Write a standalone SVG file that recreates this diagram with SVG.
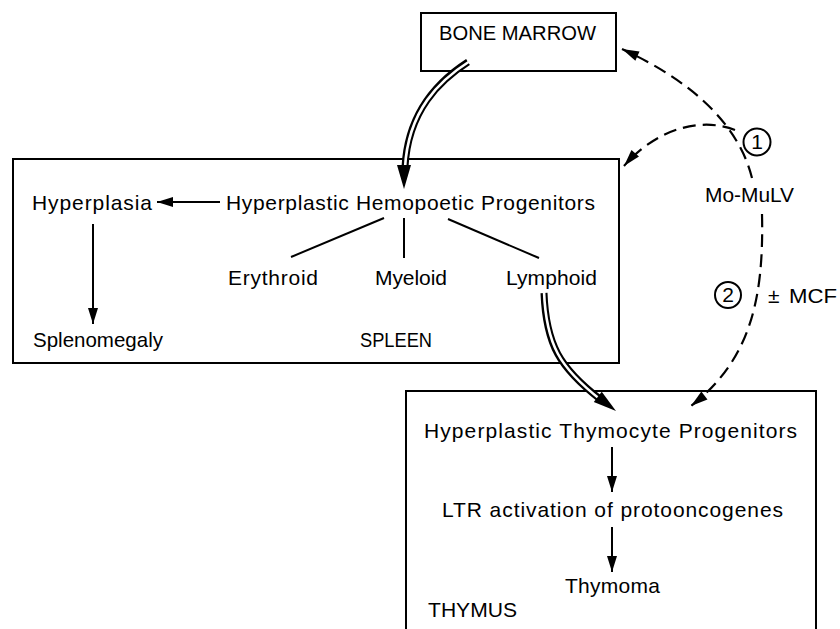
<svg xmlns="http://www.w3.org/2000/svg" width="840" height="629" viewBox="0 0 840 629">
<defs>
<style>
.box{fill:none;stroke:#000;stroke-width:2}
.t{font-family:"Liberation Sans",Arial,sans-serif;font-size:21px;fill:#000}
.ln{stroke:#000;stroke-width:2;fill:none}
.dash{stroke:#000;stroke-width:2.2;fill:none;stroke-dasharray:13 7}
.dbo{stroke:#000;stroke-width:7;fill:none}
.dbi{stroke:#fff;stroke-width:2.6;fill:none}
.hd{fill:#000}
</style>
<marker id="ah" markerUnits="userSpaceOnUse" markerWidth="24" markerHeight="14" viewBox="-20 -7 22 14" refX="0" refY="0" orient="auto">
<path d="M0,0 L-17,-5 L-17,5 Z" fill="#000"/>
</marker>
<marker id="sh" markerUnits="userSpaceOnUse" markerWidth="20" markerHeight="14" viewBox="-18 -7 20 14" refX="0" refY="0" orient="auto">
<path d="M0,0 L-16,-5 L-16,5 Z" fill="#000"/>
</marker>
</defs>
<rect width="840" height="629" fill="#fff"/>

<g id="bone-marrow">
<rect class="box" x="421" y="13" width="195" height="58"/>
<text class="t" x="439" y="40" textLength="157" lengthAdjust="spacingAndGlyphs">BONE MARROW</text>
</g>

<g id="spleen">
<rect class="box" x="13" y="159" width="606" height="204"/>
<text class="t" x="360" y="347" textLength="72" lengthAdjust="spacingAndGlyphs">SPLEEN</text>
</g>
<g id="hyperplasia"><text class="t" x="32" y="210" textLength="120" lengthAdjust="spacing">Hyperplasia</text></g>
<g id="hemopoetic"><text class="t" x="226" y="210" textLength="369" lengthAdjust="spacing">Hyperplastic Hemopoetic Progenitors</text></g>
<g id="erythroid"><text class="t" x="228" y="285" textLength="90" lengthAdjust="spacing">Erythroid</text></g>
<g id="myeloid"><text class="t" x="375" y="285" textLength="72" lengthAdjust="spacing">Myeloid</text></g>
<g id="lymphoid"><text class="t" x="506" y="285" textLength="91" lengthAdjust="spacing">Lymphoid</text></g>
<g id="splenomegaly"><text class="t" x="33" y="347" textLength="130" lengthAdjust="spacingAndGlyphs">Splenomegaly</text></g>

<g id="thymus">
<rect class="box" x="406" y="391" width="410" height="260"/>
<text class="t" x="428" y="617" textLength="89" lengthAdjust="spacingAndGlyphs">THYMUS</text>
</g>
<g id="thymocyte"><text class="t" x="424" y="438" textLength="373" lengthAdjust="spacing">Hyperplastic Thymocyte Progenitors</text></g>
<g id="ltr"><text class="t" x="442" y="517" textLength="341" lengthAdjust="spacing">LTR activation of protooncogenes</text></g>
<g id="thymoma"><text class="t" x="565" y="593" textLength="95" lengthAdjust="spacing">Thymoma</text></g>

<g id="momulv"><text class="t" x="705" y="202" textLength="89" lengthAdjust="spacingAndGlyphs">Mo-MuLV</text></g>
<g id="route1">
<circle class="ln" cx="757" cy="142" r="13.5"/>
<text class="t" x="757" y="149" text-anchor="middle" font-size="19">1</text>
</g>
<g id="route2">
<circle class="ln" cx="728" cy="295" r="13"/>
<text class="t" x="728" y="302" text-anchor="middle" font-size="19">2</text>
</g>
<g id="mcf">
<text class="t" x="768" y="303">±</text>
<text class="t" x="789" y="303" textLength="48" lengthAdjust="spacingAndGlyphs">MCF</text>
</g>

<g id="connectors">
<path class="dash" d="M752,178 C740,130 700,85 622,49" marker-end="url(#ah)"/>
<path class="dash" d="M735,130 C705,118 660,125 624,166" marker-end="url(#ah)"/>
<path class="dash" d="M762,214 C764,300 750,360 691,406" marker-end="url(#ah)"/>
<path class="dbo" d="M468,62 C440,80 408,110 405,167"/>
<path class="dbi" d="M470,61 C440,80 408,110 405,168"/>
<polygon class="hd" points="404,189 397,165 411,165"/>
<path class="dbo" d="M544,293 C546,345 560,368 600,399"/>
<path class="dbi" d="M544,291 C546,345 560,368 601,400"/>
<polygon class="hd" points="0,0 -23,-6.5 -23,6.5" transform="translate(616,411) rotate(37.6)"/>
<line class="ln" x1="220" y1="202" x2="157" y2="202" marker-end="url(#sh)"/>
<line class="ln" x1="93" y1="224" x2="93" y2="324" marker-end="url(#sh)"/>
<line class="ln" x1="384" y1="218" x2="291" y2="257"/>
<line class="ln" x1="404" y1="218" x2="404" y2="258"/>
<line class="ln" x1="448" y1="219" x2="539" y2="258"/>
<line class="ln" x1="612" y1="447" x2="612" y2="492" marker-end="url(#sh)"/>
<line class="ln" x1="612" y1="527" x2="612" y2="572" marker-end="url(#sh)"/>
</g>
</svg>
